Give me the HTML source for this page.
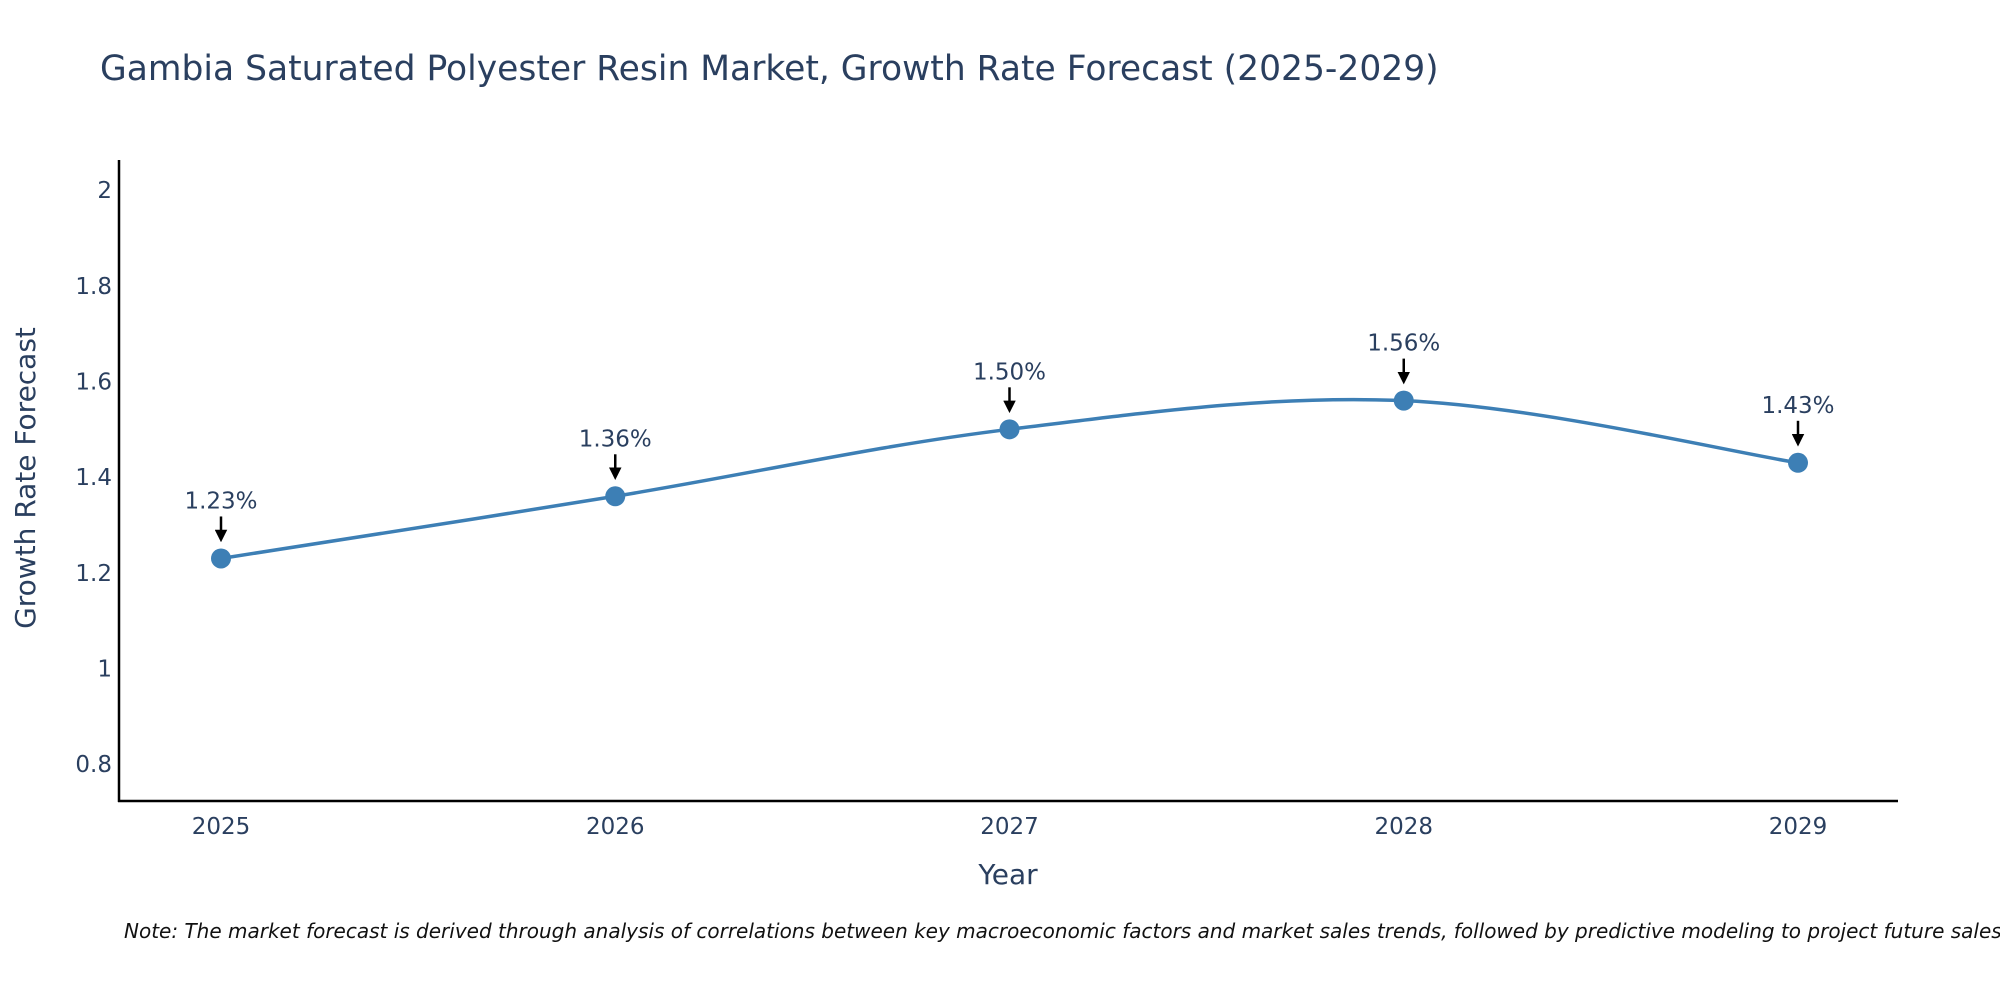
<!DOCTYPE html>
<html><head><meta charset="utf-8"><style>
body{margin:0;background:#fff;}
svg{display:block;font-family:"DejaVu Sans","Liberation Sans",sans-serif;}
</style></head><body>
<svg id="chart" width="2000" height="1000" viewBox="0 0 2000 1000">
<text x="100" y="80" font-size="34.5" fill="#2a3f5f">Gambia Saturated Polyester Resin Market, Growth Rate Forecast (2025-2029)</text>
<g id="yticks"></g><g id="xticks"></g>
<line x1="119" y1="160" x2="119" y2="802" stroke="#000" stroke-width="2.5"/>
<line x1="118" y1="801" x2="1898" y2="801" stroke="#000" stroke-width="2.5"/>
<g id="series"></g><g id="annots"></g>
<text x="1008" y="884" font-size="28" fill="#2a3f5f" text-anchor="middle">Year</text>
<text transform="translate(35,478) rotate(-90)" font-size="28" fill="#2a3f5f" text-anchor="middle">Growth Rate Forecast</text>
<text x="124" y="938" font-size="20" font-style="italic" fill="#111">Note: The market forecast is derived through analysis of correlations between key macroeconomic factors and market sales trends, followed by predictive modeling to project future sales.</text>
<defs><marker id="ah" markerWidth="5" markerHeight="5" refX="3.5" refY="2.5" orient="auto" markerUnits="strokeWidth"><path d="M0,0 L5,2.5 L0,5 z" fill="#000"/></marker></defs>
</svg>
<script>
const years=[2025,2026,2027,2028,2029];
const values=[1.23,1.36,1.50,1.56,1.43];
const valueLabels=["1.23%","1.36%","1.50%","1.56%","1.43%"];
const yTicks=[0.8,1,1.2,1.4,1.6,1.8,2];
const NS="http://www.w3.org/2000/svg";
const X=v=>221+(v-2025)*394.25;
const Y=v=>801-(v-0.723)/(2.063-0.723)*641;
function mk(t,a,p){const e=document.createElementNS(NS,t);for(const k in a)e.setAttribute(k,a[k]);p.appendChild(e);return e;}
const yt=document.getElementById('yticks');
yTicks.forEach(v=>{const t=mk('text',{x:112,y:Y(v)+8,'font-size':23,fill:'#2a3f5f','text-anchor':'end'},yt);t.textContent=String(v);

});
const xt=document.getElementById('xticks');
years.forEach(v=>{const t=mk('text',{x:X(v),y:834,'font-size':23,fill:'#2a3f5f','text-anchor':'middle'},xt);t.textContent=String(v);

});
const pts=years.map((y,i)=>[X(y),Y(values[i])]);
let d='M'+pts[0][0]+','+pts[0][1];const s=0.17;
for(let i=0;i<pts.length-1;i++){const p0=pts[Math.max(0,i-1)],p1=pts[i],p2=pts[i+1],p3=pts[Math.min(pts.length-1,i+2)];
d+=` C${p1[0]+(p2[0]-p0[0])*s},${p1[1]+(p2[1]-p0[1])*s} ${p2[0]-(p3[0]-p1[0])*s},${p2[1]-(p3[1]-p1[1])*s} ${p2[0]},${p2[1]}`;}
const sg=document.getElementById('series');
const line=mk('path',{d:d,fill:'none',stroke:'#3d7fb5','stroke-width':3.5},sg);


const ag=document.getElementById('annots');
pts.forEach((p,i)=>{const c=mk('circle',{cx:p[0],cy:p[1],r:10,fill:'#3d7fb5'},sg);


const a=mk('line',{x1:p[0],y1:p[1]-42,x2:p[0],y2:p[1]-20,stroke:'#000','stroke-width':2.5,'marker-end':'url(#ah)'},ag);


const t=mk('text',{x:p[0],y:p[1]-50,'font-size':23,fill:'#2a3f5f','text-anchor':'middle'},ag);t.textContent=valueLabels[i];

});
</script>
</body></html>
